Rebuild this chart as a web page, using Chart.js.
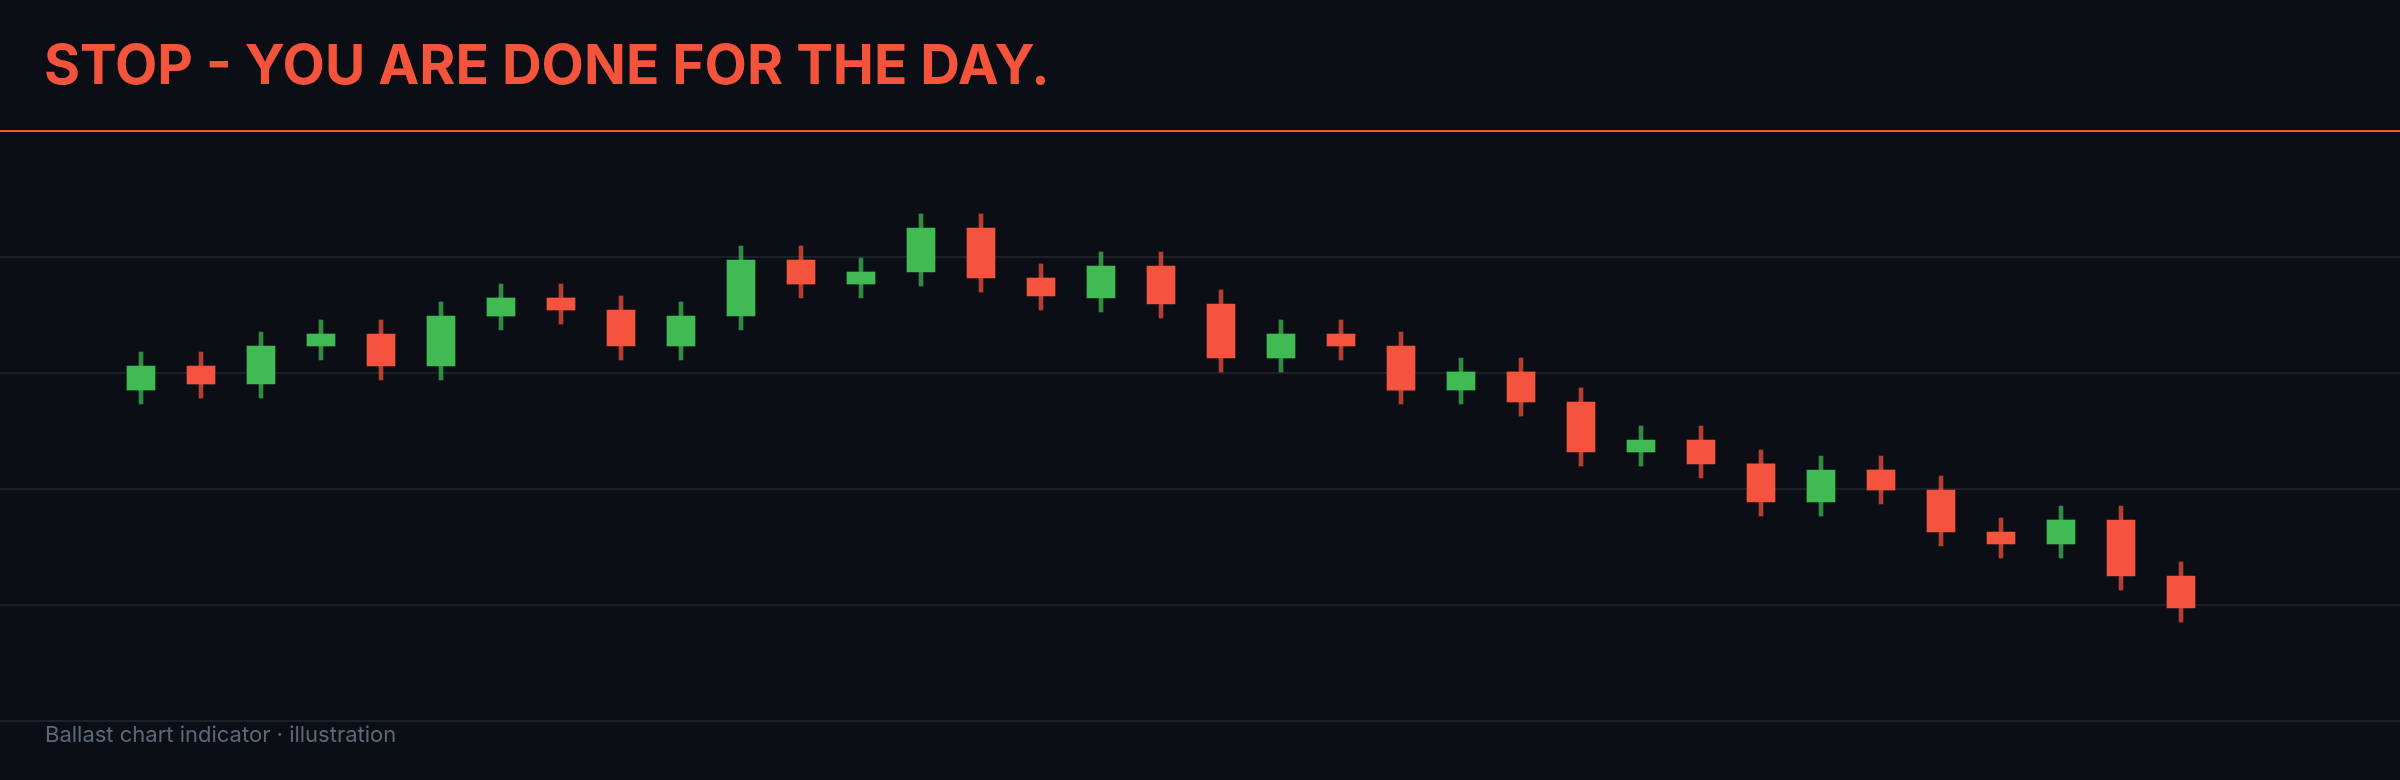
<!DOCTYPE html>
<html>
<head>
<meta charset="utf-8">
<script src="https://cdn.jsdelivr.net/npm/chart.js@4.4.1/dist/chart.umd.min.js"></script>
<style>
  html, body { margin: 0; padding: 0; background: #0b0e14; width: 2400px; height: 780px; overflow: hidden; }
  #title { position: absolute; left: 44px; top: 36.5px; font-family: Inter, "Noto Sans", sans-serif; font-weight: 700; font-size: 55px; line-height: 55px; color: #f4533c; white-space: nowrap; }
  #rule { position: absolute; left: 0; top: 130px; width: 2400px; height: 2px; background: #f4533c; }
  #wrap { position: absolute; left: 0; top: 132px; width: 2400px; height: 592px; }
  #footer { position: absolute; left: 45px; top: 723px; font-family: Inter, "Noto Sans", sans-serif; font-size: 22px; line-height: 22px; color: #5b6878; white-space: nowrap; }
</style>
</head>
<body>
<div id="title">STOP - YOU ARE DONE FOR THE DAY.</div>
<div id="rule"></div>
<div id="wrap"><canvas id="c" width="2400" height="592"></canvas></div>
<div id="footer">Ballast chart indicator · illustration</div>
<script>
const opens  = [99.853,100.060,99.905,100.233,100.336,100.060,100.491,100.647,100.543,100.233,
                100.491,100.974,100.767,100.871,101.250,100.819,100.647,100.922,100.595,100.129,
                100.336,100.233,99.853,100.009,99.750,99.319,99.422,99.216,98.888,99.164,
                98.991,98.629,98.526,98.733,98.250];
const closes = [100.060,99.905,100.233,100.336,100.060,100.491,100.647,100.543,100.233,100.491,
                100.974,100.767,100.871,101.250,100.819,100.664,100.922,100.595,100.129,100.336,
                100.233,99.853,100.009,99.750,99.319,99.422,99.216,98.888,99.164,98.991,
                98.629,98.526,98.733,98.250,97.974];
const highs  = [100.181,100.181,100.353,100.457,100.457,100.612,100.767,100.767,100.664,100.612,
                101.095,101.095,100.991,101.371,101.371,100.940,101.043,101.043,100.716,100.457,
                100.457,100.353,100.129,100.129,99.871,99.543,99.543,99.336,99.284,99.284,
                99.112,98.750,98.853,98.853,98.371];
const lows   = [99.733,99.784,99.784,100.112,99.940,99.940,100.371,100.422,100.112,100.112,
                100.371,100.647,100.647,100.750,100.698,100.543,100.526,100.474,100.009,100.009,
                100.112,99.733,99.733,99.629,99.198,99.198,99.095,98.767,98.767,98.871,
                98.509,98.405,98.405,98.129,97.853];
const gridTicks = [97, 98, 99, 100, 101];

const UP = '#40bb53', DOWN = '#f4533e';
const UP_WICK = 'rgba(64,187,83,0.72)', DOWN_WICK = 'rgba(244,83,62,0.72)';

const isUp = opens.map((o, i) => closes[i] >= o);
const bodies = opens.map((o, i) => ({ x: i, y: [o, closes[i]] }));
const wicks = lows.map((l, i) => ({ x: i, y: [l, highs[i]] }));

new Chart(document.getElementById('c'), {
  type: 'bar',
  data: {
    datasets: [
      { data: bodies, backgroundColor: isUp.map(u => u ? UP : DOWN), barThickness: 28, order: 0, borderWidth: 0, borderSkipped: false },
      { data: wicks, backgroundColor: isUp.map(u => u ? UP_WICK : DOWN_WICK), barThickness: 4, order: 1, borderWidth: 0, borderSkipped: false }
    ]
  },
  options: {
    responsive: false,
    devicePixelRatio: 1,
    animation: false,
    layout: { padding: { left: 0, right: 0, top: 0, bottom: 3 } },
    plugins: { legend: { display: false }, tooltip: { enabled: false } },
    datasets: { bar: { grouped: false } },
    scales: {
      x: { type: 'linear', display: false, min: -2.35, max: 37.65, offset: false },
      y: {
        type: 'linear', min: 97, max: 97 + 589 / 116,
        afterBuildTicks: (axis) => { axis.ticks = gridTicks.map(v => ({ value: v })); },
        ticks: { display: false },
        border: { display: false },
        grid: { color: '#1c2129', lineWidth: 2, drawTicks: false }
      }
    }
  }
});
</script>
</body>
</html>
